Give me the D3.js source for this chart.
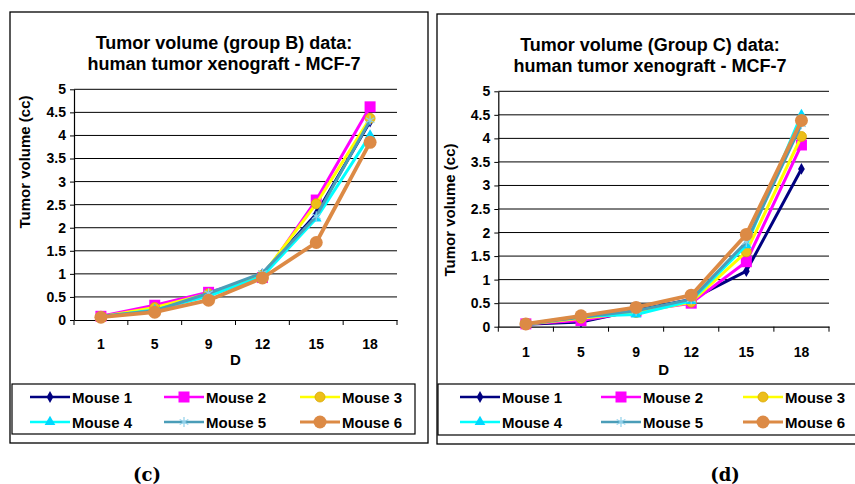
<!DOCTYPE html>
<html><head><meta charset="utf-8">
<script src="https://cdn.jsdelivr.net/npm/d3@7"></script>
<style>
html,body{margin:0;padding:0;background:#fff;}
text{font-family:"Liberation Sans",Arial,sans-serif;font-weight:bold;fill:#000;}
</style></head>
<body>
<svg id="chart" width="855" height="484"></svg>
<script>
const days = ["1","5","9","12","15","18"];
const yTicks = [0,0.5,1,1.5,2,2.5,3,3.5,4,4.5,5];
const seriesNames = ["Mouse 1","Mouse 2","Mouse 3","Mouse 4","Mouse 5","Mouse 6"];
const lineColors = ["#000080","#FF00FF","#FFFF00","#00FFFF","#4A9DB8","#DC8A45"];
const markerColors = ["#000080","#FF00FF","#EDBE1A","#00D8FF","#8FD0EA","#DC8A45"];

// Group B
const groupB_mouse1 = [0.07, 0.22, 0.55, 1.00, 2.30, 4.30];
const groupB_mouse2 = [0.08, 0.32, 0.60, 0.92, 2.60, 4.62];
const groupB_mouse3 = [0.07, 0.27, 0.57, 0.97, 2.52, 4.37];
const groupB_mouse4 = [0.06, 0.22, 0.52, 0.95, 2.20, 4.00];
const groupB_mouse5 = [0.08, 0.20, 0.58, 1.02, 2.25, 4.33];
const groupB_mouse6 = [0.06, 0.17, 0.43, 0.91, 1.68, 3.85];
// Group C
const groupC_mouse1 = [0.05, 0.10, 0.35, 0.58, 1.18, 3.35];
const groupC_mouse2 = [0.06, 0.13, 0.33, 0.50, 1.38, 3.86];
const groupC_mouse3 = [0.05, 0.18, 0.30, 0.52, 1.59, 4.04];
const groupC_mouse4 = [0.06, 0.22, 0.26, 0.55, 1.73, 4.50];
const groupC_mouse5 = [0.05, 0.20, 0.34, 0.58, 1.80, 4.30];
const groupC_mouse6 = [0.06, 0.23, 0.41, 0.67, 1.96, 4.38];

const svg = d3.select("#chart");

function marker(g, idx, x, y) {
  const c = markerColors[idx];
  if (idx === 0) {
    g.append("path").attr("d", d3.symbol(d3.symbolDiamond, 40)()).attr("transform", `translate(${x},${y})`).attr("fill", c);
  } else if (idx === 1) {
    g.append("rect").attr("x", x-5.5).attr("y", y-5.5).attr("width", 11).attr("height", 11).attr("fill", c);
  } else if (idx === 2) {
    g.append("circle").attr("cx", x).attr("cy", y).attr("r", 5).attr("fill", c).attr("stroke","#D9A800").attr("stroke-width",0.8);
  } else if (idx === 3) {
    g.append("path").attr("d", d3.symbol(d3.symbolTriangle, 50)()).attr("transform", `translate(${x},${y})`).attr("fill", c);
  } else if (idx === 4) {
    g.append("path").attr("d", d3.symbol(d3.symbolAsterisk, 70)()).attr("transform", `translate(${x},${y})`).attr("stroke", c).attr("stroke-width", 1.2).attr("fill","none");
  } else {
    g.append("circle").attr("cx", x).attr("cy", y).attr("r", 6.5).attr("fill", c);
  }
}

function drawPanel(cfg) {
  const g = svg.append("g");
  g.append("rect").attr("x", cfg.frame[0]).attr("y", cfg.frame[1]).attr("width", cfg.frame[2]).attr("height", cfg.frame[3])
    .attr("fill","none").attr("stroke","#000").attr("stroke-width",1.3);

  const x = d3.scaleBand().domain(days).range([cfg.left, cfg.right]);
  const y = d3.scaleLinear().domain([0,5]).range([cfg.bottom, cfg.top]);

  g.append("g").selectAll("line").data(yTicks.slice(1)).join("line")
    .attr("x1", cfg.left).attr("x2", cfg.right).attr("y1", d=>y(d)).attr("y2", d=>y(d))
    .attr("stroke","#000").attr("stroke-width",1);

  const ya = g.append("g").attr("transform", `translate(${cfg.left},0)`)
    .call(d3.axisLeft(y).tickValues(yTicks).tickSize(4).tickSizeOuter(0).tickPadding(4).tickFormat(d=>String(d)));
  ya.select(".domain").attr("stroke","#000").attr("stroke-width",1.2);
  ya.selectAll("text").style("font-size","14px").style("font-family","Liberation Sans, Arial, sans-serif").style("font-weight","bold").attr("fill","#000");

  const xa = g.append("g").attr("transform", `translate(0,${cfg.bottom})`)
    .call(d3.axisBottom(x).tickSize(0).tickPadding(cfg.xPad));
  xa.select(".domain").attr("stroke","#000").attr("stroke-width",1.2);
  xa.selectAll("text").style("font-size","14px").style("font-family","Liberation Sans, Arial, sans-serif").style("font-weight","bold").attr("fill","#000");
  const bounds = days.map(d=>x(d)).concat([x(days[days.length-1])+x.bandwidth()]);
  g.append("g").selectAll("line").data(bounds).join("line")
    .attr("x1", d=>d).attr("x2", d=>d).attr("y1", cfg.bottom).attr("y2", cfg.bottom+5)
    .attr("stroke","#000").attr("stroke-width",1);

  g.append("text").attr("x", (cfg.left+cfg.right)/2).attr("y", cfg.dY).attr("text-anchor","middle").style("font-size","15px").text("D");
  g.append("text").attr("transform", `translate(${cfg.ytX},${cfg.ytY}) rotate(-90)`).attr("text-anchor","middle").style("font-size","15px").text("Tumor volume (cc)");

  g.append("text").attr("x", cfg.titleX).attr("y", cfg.titleY).attr("text-anchor","middle").style("font-size","18px").text(cfg.title1);
  g.append("text").attr("x", cfg.titleX).attr("y", cfg.titleY+21).attr("text-anchor","middle").style("font-size","18px").text(cfg.title2);

  const line = d3.line().x((d,i)=>x(days[i])+x.bandwidth()/2).y(d=>y(d));
  cfg.series.forEach((vals, idx) => {
    const sg = g.append("g");
    sg.append("path").datum(vals).attr("d", line).attr("fill","none")
      .attr("stroke", lineColors[idx]).attr("stroke-width", idx===5 ? 3.8 : 3).attr("stroke-linejoin","round");
    vals.forEach((v,i)=> marker(sg, idx, x(days[i])+x.bandwidth()/2, y(v)));
  });

  const lg = g.append("g");
  lg.append("rect").attr("x", cfg.legend[0]).attr("y", cfg.legend[1]).attr("width", cfg.legend[2]).attr("height", cfg.legend[3])
    .attr("fill","#fff").attr("stroke","#000").attr("stroke-width",1.2);
  seriesNames.forEach((name, idx) => {
    const col = idx % 3, row = Math.floor(idx/3);
    const lx = cfg.legCols[col], ly = cfg.legRows[row];
    lg.append("line").attr("x1", lx).attr("x2", lx+40).attr("y1", ly).attr("y2", ly)
      .attr("stroke", lineColors[idx]).attr("stroke-width", idx===5 ? 3 : 2.5);
    marker(lg, idx, lx+20, ly);
    lg.append("text").attr("x", lx+42).attr("y", ly+5.5).style("font-size","15px").text(name);
  });

  svg.append("text").attr("x", cfg.capX).attr("y", 481).attr("text-anchor","middle")
    .style("font-family","DejaVu Serif, Liberation Serif, serif").style("font-size","18px").style("font-weight","bold").text(cfg.caption);
}

drawPanel({
  frame:[10,12,418,431], left:74, right:397, top:89.3, bottom:320, xPad:19, dY:365,
  ytX:30, ytY:162, titleX:224, titleY:49,
  title1:"Tumor volume (group B) data:", title2:"human tumor xenograft - MCF-7",
  series:[groupB_mouse1,groupB_mouse2,groupB_mouse3,groupB_mouse4,groupB_mouse5,groupB_mouse6],
  legend:[12,384,403,50], legCols:[30,164,300], legRows:[397,422],
  capX:147, caption:"(c)"
});
drawPanel({
  frame:[437,14,430,430], left:498.3, right:829, top:91.3, bottom:326.7, xPad:20, dY:375,
  ytX:455, ytY:210, titleX:650, titleY:51,
  title1:"Tumor volume (Group C) data:", title2:"human tumor xenograft - MCF-7",
  series:[groupC_mouse1,groupC_mouse2,groupC_mouse3,groupC_mouse4,groupC_mouse5,groupC_mouse6],
  legend:[438,384,430,51], legCols:[460,601,743], legRows:[397,422],
  capX:725, caption:"(d)"
});
</script>
</body></html>
